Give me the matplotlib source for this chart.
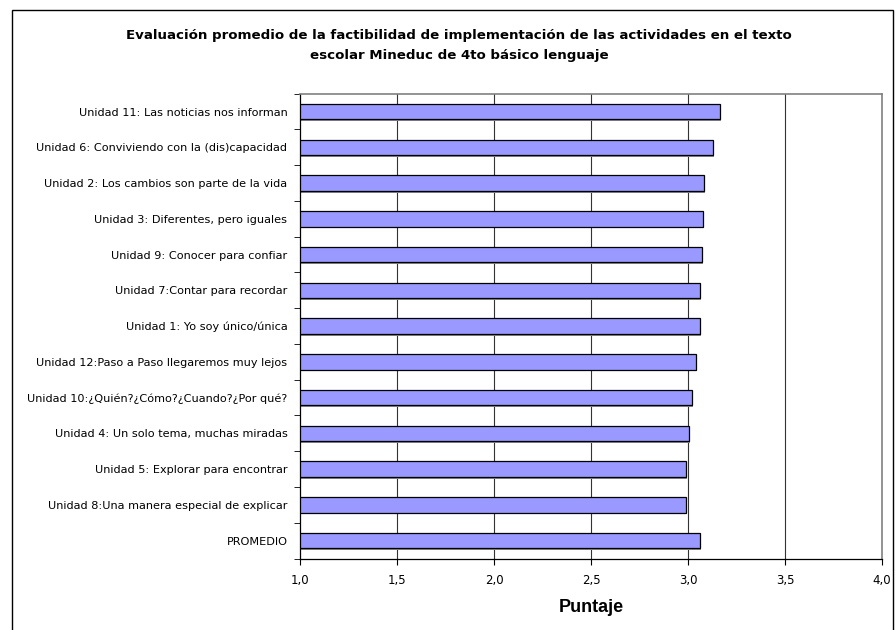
import numpy as np
import matplotlib
matplotlib.use("Agg")
import matplotlib.pyplot as plt
from matplotlib.patches import Rectangle

# categories listed top to bottom
labels = [
    "Unidad 11: Las noticias nos informan",
    "Unidad 6: Conviviendo con la (dis)capacidad",
    "Unidad 2: Los cambios son parte de la vida",
    "Unidad 3: Diferentes, pero iguales",
    "Unidad 9: Conocer para confiar",
    "Unidad 7:Contar para recordar",
    "Unidad 1: Yo soy único/única",
    "Unidad 12:Paso a Paso llegaremos muy lejos",
    "Unidad 10:¿Quién?¿Cómo?¿Cuando?¿Por qué?",
    "Unidad 4: Un solo tema, muchas miradas",
    "Unidad 5: Explorar para encontrar",
    "Unidad 8:Una manera especial de explicar",
    "PROMEDIO",
]
scores = [3.165, 3.129, 3.084, 3.079, 3.072, 3.060, 3.060,
          3.041, 3.022, 3.005, 2.991, 2.991, 3.060]
xticks = [1.0, 1.5, 2.0, 2.5, 3.0, 3.5, 4.0]

W, H = 896, 630
fig = plt.figure(figsize=(W / 100, H / 100), dpi=100)
ax = fig.add_axes([300/W, 1 - 558.5/H, 582/W, 464.8/H])

y = np.arange(len(labels))[::-1]
# faint shadow then bars
ax.barh(y - 0.05, np.array(scores) - 1.0, left=1.0 + 0.006, height=0.43,
        color="#8a8a8a", zorder=2, lw=0)
ax.barh(y, np.array(scores) - 1.0, left=1.0, height=0.43,
        color="#9999ff", edgecolor="black", lw=0.9, zorder=3)

ax.set_xlim(1.0, 4.0)
ax.set_ylim(-0.5, len(labels) - 0.5)
ax.set_xticks(xticks)
ax.set_xticklabels([f"{v:.1f}".replace(".", ",") for v in xticks],
                   fontsize=8.5, family="DejaVu Sans")
ax.set_yticks(y)
ax.set_yticklabels(labels, fontsize=8.1, family="DejaVu Sans")
ax.set_yticks(np.arange(-0.5, len(labels)), minor=True)
ax.tick_params(axis="y", which="major", length=0, pad=9)
ax.tick_params(axis="y", which="minor", length=4, direction="out")
ax.tick_params(axis="x", length=4, direction="out", pad=7)

for v in xticks[1:-1]:
    ax.axvline(v, color="#333333", lw=0.8, zorder=1)
ax.spines["top"].set_color("#808080")
ax.spines["right"].set_color("#808080")
ax.spines["top"].set_linewidth(1.2)
ax.spines["right"].set_linewidth(1.2)
ax.spines["left"].set_linewidth(0.9)
ax.spines["bottom"].set_linewidth(0.9)

ax.set_xlabel("Puntaje", fontsize=13, fontweight="bold",
              family="Liberation Sans", labelpad=9)

fig.text(459/W, 1 - 36/H,
         "Evaluación promedio de la factibilidad de implementación de las actividades en el texto",
         ha="center", va="center", fontsize=9.6, fontweight="bold")
fig.text(459/W, 1 - 55/H, "escolar Mineduc de 4to básico lenguaje",
         ha="center", va="center", fontsize=9.6, fontweight="bold")

# outer chart frame
fig.patches.append(Rectangle((12/W, -0.05), 881/W, 1.05 - 10/H,
                             transform=fig.transFigure, fill=False,
                             edgecolor="black", lw=1.0))

fig.savefig("out.png", dpi=100)
